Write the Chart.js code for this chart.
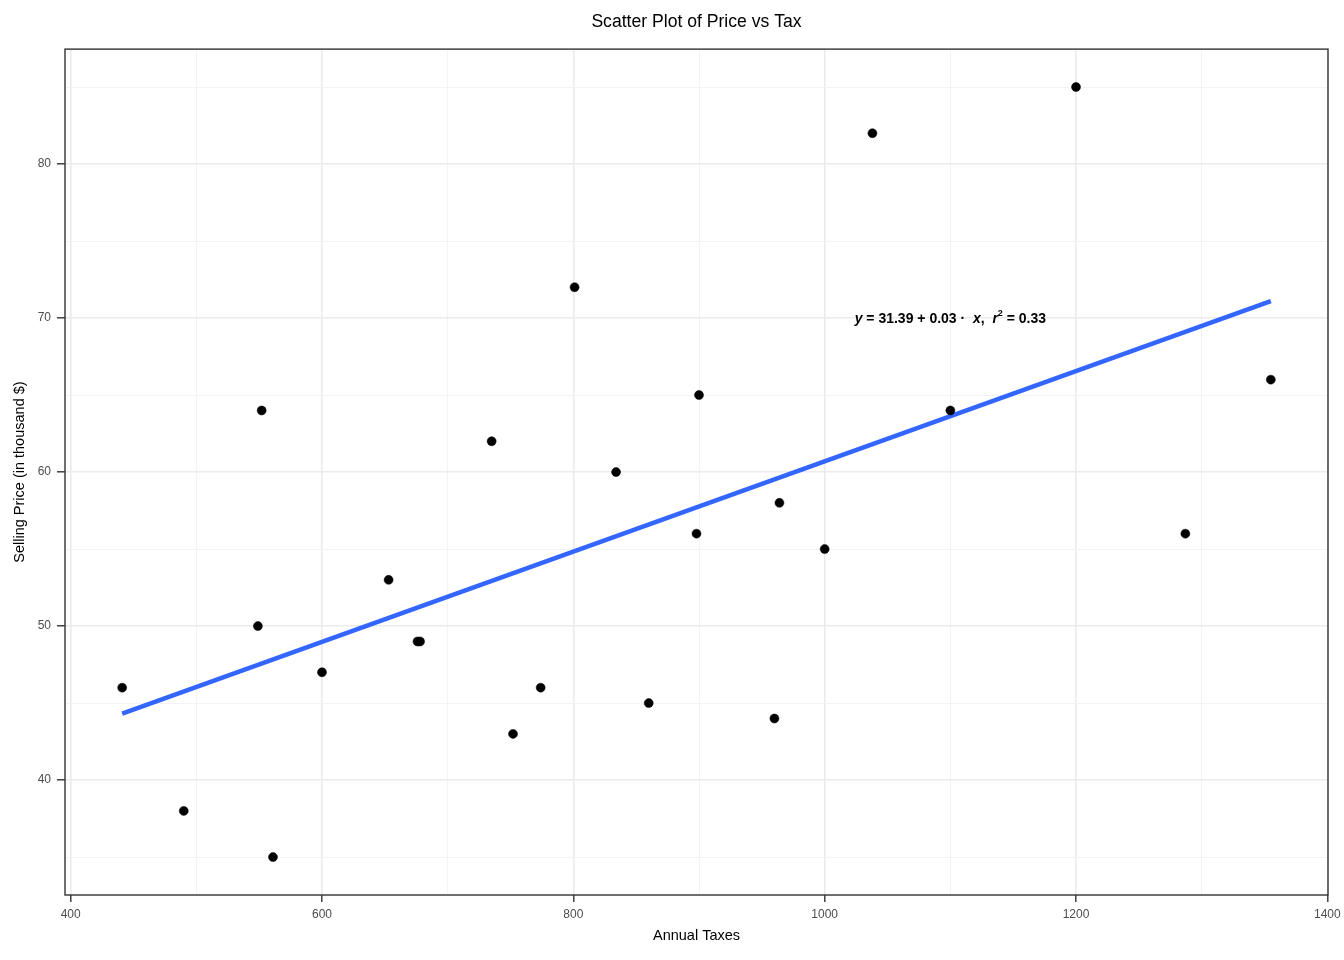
<!DOCTYPE html>
<html>
<head>
<meta charset="utf-8">
<title>Scatter Plot of Price vs Tax</title>
<script src="https://cdn.jsdelivr.net/npm/chart.js@4.4.1/dist/chart.umd.min.js"></script>
<style>
  html, body { margin: 0; padding: 0; background: #fff; }
  #wrap { width: 1344px; height: 960px; }
</style>
</head>
<body>
<div id="wrap"><canvas id="chart" width="1344" height="960"></canvas></div>
<script>
// Data
const annualTaxes = [441, 490, 549, 552, 561, 600, 653, 676, 678, 735, 752, 774, 801, 834, 860, 898, 900, 960, 964, 1000, 1038, 1100, 1200, 1287, 1355];
const sellingPrice = [46, 38, 50, 64, 35, 47, 53, 49, 49, 62, 43, 46, 72, 60, 45, 56, 65, 44, 58, 55, 82, 64, 85, 56, 66];

const fitIntercept = 31.39;
const fitSlope = 0.0293;
const fitLabel = ['31.39', '0.03', '0.33'];
const labelAt = [1100, 70];

// axis ticks
const xTicks = [400, 500, 600, 700, 800, 900, 1000, 1100, 1200, 1300, 1400];
const xLabelTicks = [400, 600, 800, 1000, 1200, 1400];
const yTicks = [35, 40, 45, 50, 55, 60, 65, 70, 75, 80, 85];
const yLabelTicks = [40, 50, 60, 70, 80];

const FONT = "'Liberation Sans', Arial, Helvetica, sans-serif";
const MAJOR = '#ebebeb';
const MINOR = '#f3f3f3';
const FRAME = '#333333';

const points = annualTaxes.map((x, i) => ({ x: x, y: sellingPrice[i] }));
const xMin = Math.min(...annualTaxes);
const xMax = Math.max(...annualTaxes);
const fitLine = [xMin, xMax].map(x => ({ x: x, y: fitIntercept + fitSlope * x }));

// panel frame + equation label
const panelPlugin = {
  id: 'panel',
  afterDatasetsDraw(chart) {
    const { ctx, chartArea: a, scales } = chart;
    ctx.save();
    ctx.strokeStyle = FRAME;
    ctx.lineWidth = 1.4;
    ctx.strokeRect(a.left, a.top, a.right - a.left, a.bottom - a.top);

    const parts = [
      { t: 'y', f: 'italic bold 14px ' + FONT },
      { t: ' = ' + fitLabel[0] + ' + ' + fitLabel[1] + ' \u00b7  ', f: 'bold 14px ' + FONT },
      { t: 'x', f: 'italic bold 14px ' + FONT },
      { t: ',  ', f: 'bold 14px ' + FONT },
      { t: 'r', f: 'italic bold 14px ' + FONT },
      { t: '2', f: 'bold 9px ' + FONT, dy: -6 },
      { t: ' = ' + fitLabel[2], f: 'bold 14px ' + FONT }
    ];
    let total = 0;
    parts.forEach(p => { ctx.font = p.f; p.w = ctx.measureText(p.t).width; total += p.w; });
    let px = scales.x.getPixelForValue(labelAt[0]) - total / 2;
    const py = scales.y.getPixelForValue(labelAt[1]) + 1;
    ctx.fillStyle = '#000';
    ctx.textBaseline = 'middle';
    ctx.textAlign = 'left';
    parts.forEach(p => {
      ctx.font = p.f;
      ctx.fillText(p.t, px, py + (p.dy || 0));
      px += p.w;
    });
    ctx.restore();
  }
};

new Chart(document.getElementById('chart'), {
  type: 'scatter',
  data: {
    datasets: [
      {
        type: 'line',
        data: fitLine,
        borderColor: '#3366FF',
        borderWidth: 4.5,
        pointRadius: 0,
        fill: false,
        order: 2
      },
      {
        type: 'scatter',
        data: points,
        backgroundColor: '#000',
        borderColor: '#000',
        borderWidth: 0.5,
        pointRadius: 4.5,
        order: 1
      }
    ]
  },
  options: {
    responsive: false,
    animation: false,
    layout: { padding: { left: 0, right: 16, top: 0, bottom: 0 } },
    plugins: {
      legend: { display: false },
      tooltip: { enabled: false },
      title: {
        display: true,
        fullSize: false,
        text: 'Scatter Plot of Price vs Tax',
        color: '#000',
        font: { family: FONT, size: 17.6, weight: 'normal' },
        padding: { top: 12, bottom: 16 }
      }
    },
    scales: {
      x: {
        type: 'linear',
        min: 395.5,
        max: 1400.5,
        afterBuildTicks: s => { s.ticks = xTicks.map(v => ({ value: v })); },
        afterFit: s => { s.height = 65; s.paddingLeft = 0; s.paddingRight = 0; },
        border: { display: false },
        grid: {
          color: c => xLabelTicks.includes(c.tick.value) ? MAJOR : MINOR,
          lineWidth: c => xLabelTicks.includes(c.tick.value) ? 1.6 : 1,
          tickColor: c => xLabelTicks.includes(c.tick.value) ? FRAME : 'rgba(0,0,0,0)',
          tickWidth: 1.4,
          tickLength: 7
        },
        ticks: {
          autoSkip: false,
          maxRotation: 0,
          padding: 5,
          color: '#4d4d4d',
          font: { family: FONT, size: 12 },
          callback: v => xLabelTicks.includes(v) ? String(v) : ''
        },
        title: {
          display: true,
          text: 'Annual Taxes',
          color: '#000',
          font: { family: FONT, size: 14.5 },
          padding: { top: 0, bottom: 15.5 }
        }
      },
      y: {
        type: 'linear',
        min: 32.54,
        max: 87.46,
        afterBuildTicks: s => { s.ticks = yTicks.map(v => ({ value: v })); },
        afterFit: s => { s.width = 65; },
        border: { display: false },
        grid: {
          color: c => yLabelTicks.includes(c.tick.value) ? MAJOR : MINOR,
          lineWidth: c => yLabelTicks.includes(c.tick.value) ? 1.6 : 1,
          tickColor: c => yLabelTicks.includes(c.tick.value) ? FRAME : 'rgba(0,0,0,0)',
          tickWidth: 1.4,
          tickLength: 8
        },
        ticks: {
          autoSkip: false,
          padding: 6,
          color: '#4d4d4d',
          font: { family: FONT, size: 12 },
          callback: v => yLabelTicks.includes(v) ? String(v) : ''
        },
        title: {
          display: true,
          text: 'Selling Price (in thousand $)',
          color: '#000',
          font: { family: FONT, size: 14.5 },
          padding: { top: 11.5, bottom: 0 }
        }
      }
    }
  },
  plugins: [panelPlugin]
});
</script>
</body>
</html>
